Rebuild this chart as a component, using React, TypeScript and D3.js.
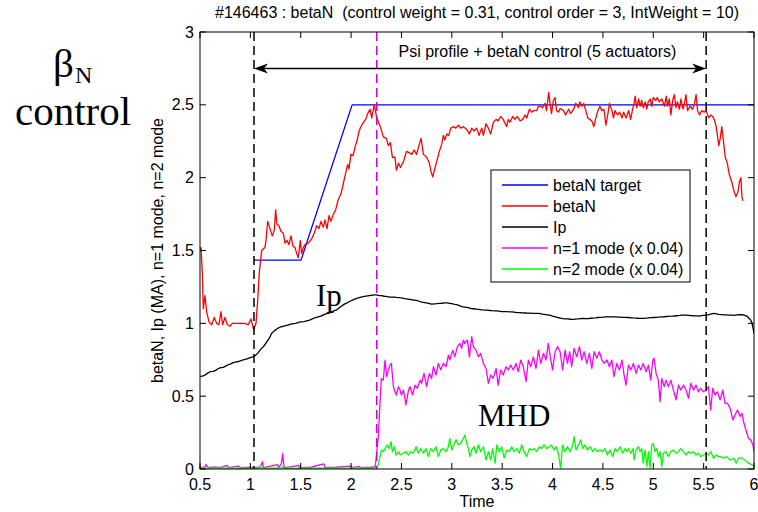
import React from "react";
import * as d3 from "d3";

// ---------- data ----------
const targetT = [1.036, 1.503, 2.01, 6.0];
const targetV = [1.434, 1.434, 2.5, 2.5];

const betaNT = [0.5,0.51,0.523,0.533,0.549,0.566,0.589,0.616,0.642,0.665,0.688,0.708,0.725,0.748,0.771,0.798,0.821,0.847,0.88,0.913,0.947,0.98,1.006,1.033,1.056,1.072,1.089,1.112,1.145,1.155,1.172,1.195,1.218,1.238,1.251,1.264,1.284,1.304,1.327,1.344,1.364,1.383,1.403,1.423,1.443,1.46,1.476,1.496,1.509,1.526,1.542,1.575,1.609,1.635,1.658,1.681,1.701,1.724,1.741,1.761,1.781,1.8,1.824,1.847,1.873,1.9,1.923,1.946,1.966,1.979,1.999,2.019,2.039,2.062,2.079,2.105,2.122,2.145,2.165,2.188,
2.205,2.23,2.255,2.29,2.32,2.35,2.37,2.39,2.41,2.436,2.45,2.47,2.49,2.52,2.55,2.58,2.605,2.625,2.65,2.678,2.695,2.718,2.75,2.777,2.794,2.81,2.827,2.85,2.876,2.9,2.916,2.93,2.95,2.97,2.99,3.015,3.04,3.065,3.088,3.115,3.148,3.175,3.198,3.22,3.247,3.27,3.297,3.313,3.34,3.363,3.386,3.413,3.44,3.46,3.485,3.51,3.545,3.56,3.578,3.605,3.628,3.65,3.678,3.704,3.727,3.744,3.77,3.793,3.816,3.843,3.86,3.883,3.9,3.926,3.94,3.962,3.975,3.99,4.008,4.025,4.04,4.06,
4.075,4.11,4.13,4.16,4.18,4.21,4.23,4.26,4.27,4.29,4.31,4.33,4.35,4.37,4.39,4.41,4.43,4.45,4.47,4.49,4.51,4.53,4.55,4.565,4.59,4.605,4.62,4.645,4.665,4.69,4.705,4.73,4.755,4.775,4.795,4.81,4.82,4.835,4.855,4.87,4.885,4.9,4.92,4.935,4.95,4.97,4.985,5.0,5.025,5.04,5.06,5.085,5.11,5.13,5.14,5.16,5.175,5.195,5.21,5.225,5.24,5.26,5.275,5.295,5.31,5.325,5.34,5.365,5.39,5.41,5.425,5.44,5.46,5.48,5.505,5.525,5.55,5.57,5.59,5.605,5.625,5.65,5.665,5.68,5.7,5.715,5.735,5.755,5.78,5.8,5.82,5.84,5.855,5.87,5.88,5.89];
const betaNV = [1.5,1.52,1.35,1.1,1.19,1.08,1.01,0.99,1.04,1.0,0.99,1.08,0.99,1.04,0.99,0.98,1.0,1.0,1.0,1.0,1.0,0.99,1.03,0.955,1.0,1.15,1.35,1.5,1.52,1.57,1.7,1.65,1.6,1.64,1.78,1.68,1.67,1.63,1.62,1.55,1.57,1.54,1.6,1.53,1.52,1.48,1.45,1.57,1.48,1.52,1.54,1.55,1.58,1.62,1.67,1.65,1.7,1.66,1.71,1.65,1.74,1.7,1.75,1.78,1.85,1.89,1.96,2.03,2.09,2.06,2.16,2.15,2.21,2.26,2.32,2.36,2.38,2.4,2.44,2.47,
2.41,2.5,2.41,2.35,2.28,2.27,2.22,2.24,2.14,2.14,2.05,2.1,2.07,2.11,2.18,2.17,2.16,2.19,2.16,2.23,2.27,2.16,2.14,2.1,2.04,2.006,2.05,2.11,2.18,2.23,2.29,2.26,2.3,2.29,2.34,2.35,2.34,2.36,2.34,2.35,2.33,2.3,2.34,2.32,2.34,2.29,2.34,2.29,2.37,2.34,2.3,2.38,2.4,2.39,2.42,2.4,2.35,2.4,2.38,2.42,2.4,2.42,2.39,2.4,2.43,2.41,2.47,2.45,2.46,2.46,2.49,2.49,2.48,2.51,2.46,2.585,2.51,2.44,2.53,2.55,2.46,2.45,
2.475,2.46,2.43,2.47,2.44,2.47,2.51,2.48,2.52,2.49,2.51,2.46,2.41,2.4,2.39,2.35,2.41,2.46,2.49,2.46,2.47,2.36,2.44,2.51,2.46,2.41,2.46,2.43,2.45,2.41,2.45,2.41,2.46,2.4,2.47,2.51,2.56,2.48,2.54,2.49,2.53,2.48,2.52,2.47,2.52,2.54,2.49,2.55,2.53,2.55,2.52,2.54,2.49,2.56,2.49,2.54,2.43,2.54,2.57,2.48,2.52,2.47,2.54,2.47,2.51,2.57,2.46,2.49,2.47,2.51,2.57,2.46,2.43,2.46,2.45,2.46,2.41,2.43,2.42,2.4,2.35,2.22,2.27,2.35,2.23,2.14,2.1,2.02,1.97,1.91,1.87,1.9,1.97,2.0,1.87,1.84];

const ipT = [0.5,0.53,0.55,0.58,0.6,0.63,0.65,0.68,0.7,0.73,0.75,0.78,0.8,0.83,0.85,0.88,0.9,0.93,0.95,0.98,1.0,1.03,1.05,1.08,1.1,1.13,1.16,1.19,1.21,1.24,1.27,1.3,1.33,1.35,1.38,1.4,1.43,1.45,1.48,1.5,1.53,1.55,1.58,1.6,1.63,1.65,1.68,1.7,1.73,1.75,1.78,1.8,1.83,1.85,1.88,1.9,1.93,1.95,1.98,2.0,2.03,2.05,2.08,2.1,2.13,2.15,2.18,2.2,2.23,2.25,2.28,2.3,2.33,2.35,2.38,2.4,2.43,2.45,2.48,2.5,2.53,2.55,2.58,2.6,2.63,2.65,2.68,2.7,2.73,2.75,2.78,2.8,2.83,2.85,2.88,2.9,2.93,2.95,2.98,3.0,3.03,3.05,3.08,3.1,3.13,3.15,3.18,3.2,3.23,3.25,3.28,3.3,3.33,3.35,3.38,3.4,3.43,3.45,3.48,3.5,3.53,3.55,3.58,3.6,3.63,3.65,3.68,3.7,3.73,3.75,3.78,3.8,3.83,3.85,3.88,3.9,3.93,3.95,3.98,4.0,4.03,4.05,4.08,4.1,4.13,4.15,4.18,4.2,4.23,4.25,4.28,4.3,4.33,4.35,4.38,4.4,4.43,4.45,4.48,4.5,4.53,4.55,4.58,4.6,4.63,4.65,4.68,4.7,4.73,4.75,4.78,4.8,4.83,4.85,4.88,4.9,4.93,4.95,4.98,5.0,5.03,5.05,5.08,5.1,5.13,5.15,5.18,5.2,5.23,5.25,5.28,5.3,5.33,5.35,5.38,5.4,5.43,5.45,5.48,5.5,5.53,5.55,5.58,5.6,5.63,5.65,5.68,5.7,5.73,5.75,5.78,5.8,5.83,5.85,5.88,5.9,5.93,5.95,5.97,5.98,5.99,6.0];
const ipV = [0.634,0.64,0.645,0.66,0.668,0.67,0.675,0.688,0.695,0.698,0.705,0.716,0.72,0.73,0.733,0.738,0.742,0.75,0.752,0.76,0.765,0.772,0.78,0.8,0.82,0.84,0.87,0.9,0.93,0.95,0.965,0.975,0.98,0.985,0.99,0.995,0.998,1.0,1.006,1.01,1.012,1.015,1.02,1.025,1.035,1.04,1.046,1.05,1.06,1.065,1.07,1.075,1.085,1.09,1.105,1.115,1.13,1.137,1.148,1.155,1.165,1.17,1.176,1.18,1.185,1.187,1.19,1.192,1.195,1.195,1.19,1.19,1.186,1.185,1.18,1.18,1.18,1.178,1.176,1.175,1.17,1.168,1.165,1.162,1.16,1.158,1.15,1.145,1.142,1.14,1.136,1.132,1.134,1.135,1.137,1.138,1.14,1.14,1.137,1.135,1.13,1.128,1.12,1.115,1.112,1.11,1.104,1.1,1.1,1.097,1.094,1.092,1.09,1.09,1.088,1.087,1.086,1.085,1.082,1.08,1.081,1.08,1.079,1.078,1.075,1.073,1.074,1.072,1.071,1.07,1.07,1.068,1.069,1.068,1.066,1.063,1.06,1.058,1.054,1.05,1.045,1.04,1.036,1.033,1.031,1.03,1.028,1.027,1.029,1.03,1.033,1.034,1.032,1.032,1.035,1.036,1.038,1.04,1.041,1.042,1.044,1.044,1.045,1.045,1.044,1.043,1.042,1.041,1.041,1.04,1.038,1.037,1.036,1.035,1.034,1.034,1.036,1.037,1.039,1.04,1.041,1.042,1.044,1.045,1.047,1.048,1.049,1.05,1.052,1.053,1.056,1.057,1.056,1.055,1.053,1.052,1.051,1.05,1.053,1.055,1.057,1.06,1.065,1.068,1.065,1.062,1.06,1.058,1.058,1.057,1.056,1.055,1.058,1.06,1.059,1.057,1.05,1.035,1.02,1.0,0.97,0.93];

const n1T = [0.5,0.55,0.56,0.58,0.65,0.7,0.77,0.78,0.88,0.9,1.0,1.05,1.1,1.12,1.13,1.2,1.27,1.28,1.31,1.32,1.335,1.4,1.48,1.49,1.6,1.73,1.74,1.85,2.0,2.01,2.08,2.09,2.2,2.24,
2.27,2.287,2.3,2.32,2.337,2.353,2.37,2.386,2.4,2.42,2.436,2.45,2.47,2.486,2.5,2.52,2.545,2.57,2.585,2.61,2.635,2.658,2.685,2.7,2.724,2.75,2.777,2.8,2.817,2.843,2.866,2.89,2.916,2.943,2.966,2.98,3.01,3.03,3.055,3.08,3.098,3.115,3.13,3.155,3.175,3.198,3.214,3.24,3.264,3.287,3.313,3.34,3.363,3.386,3.41,3.44,3.46,3.485,3.51,3.538,3.56,3.585,3.61,3.638,3.66,3.684,3.71,3.737,3.76,3.783,3.81,3.836,3.86,3.883,3.91,3.935,3.958,3.98,4.0,4.025,4.05,
4.075,4.1,4.125,4.148,4.17,4.19,4.214,4.24,4.267,4.29,4.313,4.34,4.366,4.39,4.413,4.44,4.465,4.49,4.512,4.54,4.565,4.588,4.61,4.638,4.664,4.69,4.71,4.73,4.753,4.777,4.803,4.83,4.853,4.876,4.9,4.93,4.952,4.975,4.995,5.008,5.028,5.05,5.068,5.085,5.108,5.127,5.15,5.174,5.2,5.227,5.25,5.273,5.3,5.326,5.35,5.372,5.4,5.425,5.448,5.47,5.498,5.525,5.548,5.57,5.59,5.614,5.637,5.664,5.69,5.713,5.737,5.763,5.79,5.813,5.836,5.862,5.88,5.9,5.92,5.945,5.968,5.99,6.0];
const n1V = [0.01,0.015,0.03,0.01,0.015,0.01,0.025,0.01,0.02,0.01,0.012,0.01,0.015,0.05,0.01,0.02,0.03,0.01,0.04,0.105,0.01,0.015,0.025,0.01,0.012,0.035,0.01,0.012,0.02,0.01,0.018,0.01,0.012,0.017,
0.22,0.45,0.62,0.61,0.748,0.634,0.68,0.713,0.725,0.565,0.53,0.508,0.565,0.542,0.508,0.542,0.44,0.542,0.565,0.508,0.576,0.554,0.61,0.588,0.656,0.565,0.656,0.622,0.702,0.645,0.725,0.68,0.725,0.702,0.782,0.748,0.816,0.77,0.84,0.862,0.828,0.885,0.862,0.885,0.77,0.908,0.84,0.816,0.77,0.794,0.725,0.69,0.588,0.645,0.622,0.69,0.576,0.68,0.645,0.702,0.68,0.713,0.68,0.725,0.668,0.748,0.702,0.6,0.748,0.702,0.77,0.69,0.816,0.725,0.794,0.748,0.862,0.76,0.68,0.805,0.84,
0.805,0.68,0.816,0.725,0.805,0.702,0.828,0.77,0.84,0.748,0.805,0.725,0.794,0.69,0.805,0.76,0.805,0.748,0.725,0.748,0.702,0.748,0.634,0.725,0.68,0.748,0.645,0.576,0.713,0.68,0.725,0.656,0.713,0.68,0.725,0.668,0.713,0.61,0.748,0.76,0.656,0.61,0.462,0.622,0.565,0.61,0.565,0.61,0.542,0.474,0.576,0.542,0.576,0.542,0.485,0.588,0.542,0.576,0.53,0.554,0.53,0.542,0.565,0.405,0.554,0.508,0.53,0.474,0.542,0.451,0.451,0.417,0.337,0.371,0.405,0.36,0.383,0.314,0.268,0.211,0.2,0.165,0.12];

const n2T = [0.5,0.7,0.9,1.09,1.1,1.11,1.3,1.32,1.33,1.6,1.9,2.2,2.24,
2.27,2.3,2.32,2.337,2.36,2.38,2.397,2.41,2.43,2.446,2.47,2.49,2.52,2.545,2.57,2.59,2.62,2.645,2.668,2.69,2.718,2.744,2.767,2.79,2.817,2.843,2.866,2.89,2.916,2.943,2.966,2.98,3.0,3.02,3.042,3.065,3.088,3.115,3.13,3.148,3.165,3.18,3.198,3.22,3.24,3.264,3.287,3.313,3.34,3.363,3.386,3.405,3.43,3.446,3.472,3.495,3.52,3.545,3.57,3.595,3.618,3.645,3.67,3.694,3.717,3.744,3.77,3.793,3.816,3.843,3.87,3.892,3.916,3.942,3.97,3.99,4.015,4.035,4.058,4.08,
4.1,4.125,4.148,4.175,4.2,4.214,4.234,4.257,4.28,4.3,4.323,4.346,4.373,4.4,4.42,4.446,4.472,4.5,4.52,4.545,4.57,4.598,4.62,4.644,4.67,4.697,4.72,4.737,4.753,4.777,4.8,4.81,4.83,4.853,4.87,4.886,4.9,4.92,4.936,4.952,4.968,4.985,5.0,5.018,5.035,5.05,5.068,5.085,5.1,5.127,5.15,5.174,5.2,5.227,5.25,5.273,5.3,5.326,5.35,5.372,5.4,5.425,5.448,5.47,5.498,5.525,5.548,5.57,5.6,5.625,5.647,5.67,5.697,5.73,5.763,5.8,5.823,5.846,5.88,5.912,5.945,5.98,6.0];
const n2V = [0.005,0.006,0.005,0.005,0.02,0.005,0.006,0.016,0.005,0.005,0.006,0.005,0.005,
0.027,0.13,0.119,0.14,0.165,0.14,0.188,0.119,0.153,0.096,0.119,0.096,0.108,0.119,0.096,0.119,0.108,0.153,0.108,0.14,0.108,0.14,0.085,0.14,0.119,0.153,0.085,0.13,0.14,0.119,0.153,0.21,0.13,0.165,0.2,0.165,0.176,0.21,0.233,0.176,0.14,0.085,0.13,0.153,0.108,0.165,0.119,0.153,0.062,0.119,0.062,0.14,0.04,0.165,0.119,0.153,0.074,0.13,0.119,0.153,0.119,0.14,0.108,0.165,0.119,0.085,0.14,0.13,0.14,0.119,0.153,0.14,0.165,0.14,0.153,0.165,0.13,0.153,0.108,0.005,
0.165,0.119,0.153,0.119,0.165,0.222,0.13,0.165,0.2,0.14,0.165,0.13,0.153,0.119,0.14,0.119,0.13,0.119,0.14,0.096,0.13,0.085,0.14,0.119,0.153,0.108,0.14,0.119,0.14,0.108,0.14,0.062,0.13,0.153,0.119,0.14,0.04,0.13,0.017,0.119,0.005,0.165,0.176,0.119,0.14,0.085,0.119,0.017,0.108,0.119,0.085,0.119,0.13,0.108,0.119,0.14,0.119,0.096,0.119,0.108,0.119,0.096,0.108,0.085,0.096,0.108,0.096,0.119,0.074,0.096,0.085,0.085,0.074,0.085,0.062,0.074,0.04,0.074,0.074,0.062,0.04,0.028,0.017];

const xTicks = [0.5, 1, 1.5, 2, 2.5, 3, 3.5, 4, 4.5, 5, 5.5, 6];
const yTicks = [0, 0.5, 1, 1.5, 2, 2.5, 3];
const legendLabels = ["betaN target", "betaN", "Ip", "n=1 mode (x 0.04)", "n=2 mode (x 0.04)"];
const legendColors = ["#0000ff", "#ff0000", "#000000", "#ff00ff", "#00ff00"];
const controlStart = 1.036;
const controlEnd = 5.525;
const mhdStart = 2.255;
const arrowLevel = 2.75;
const arrowTextCenter = 3.85;
const titleText = "#146463 : betaN\u00a0\u00a0(control weight = 0.31, control order = 3, IntWeight = 10)";

const SANS = "'Liberation Sans', Arial, Helvetica, sans-serif";
const SERIF = "'Liberation Serif', 'Times New Roman', Times, serif";

export default function App() {
  const W = 758, H = 512;
  const L = 200, R = 754, T = 32, B = 469;
  const x = d3.scaleLinear().domain([0.5, 6]).range([L, R]);
  const y = d3.scaleLinear().domain([0, 3]).range([B, T]);
  const line = d3.line<[number, number]>().x(d => x(d[0])).y(d => y(d[1]));
  const zip = (a: number[], b: number[]) => a.map((t, i) => [t, b[i]] as [number, number]);

  const series = [
    { d: zip(targetT, targetV), c: legendColors[0] },
    { d: zip(betaNT, betaNV), c: legendColors[1] },
    { d: zip(ipT, ipV), c: legendColors[2] },
    { d: zip(n1T, n1V), c: legendColors[3] },
    { d: zip(n2T, n2V), c: legendColors[4] },
  ];

  const ay = y(arrowLevel);
  const ax1 = x(controlStart), ax2 = x(controlEnd);
  const head = (tx: number, dir: number) =>
    `M${tx},${ay} L${tx + dir * 14},${ay - 5} L${tx + dir * 10},${ay} L${tx + dir * 14},${ay + 5} Z`;

  const legX = 491, legY = 170, legW = 199, legH = 112;

  return (
    <svg width={W} height={H} style={{ position: "absolute", left: 0, top: 0, background: "#fff" }}
      fontFamily={SANS}>
      <rect x={0} y={0} width={W} height={H} fill="#fff" />
      <defs>
        <clipPath id="plotclip"><rect x={L} y={T} width={R - L} height={B - T} /></clipPath>
      </defs>
      {/* title */}
      <text x={(L + R) / 2} y={18} fontSize={16} textAnchor="middle">{titleText}</text>
      {/* series */}
      <g clipPath="url(#plotclip)" fill="none" strokeWidth={1.3} strokeLinejoin="round">
        {series.map((s, i) => <path key={i} d={line(s.d) || ""} stroke={s.c} />)}
      </g>
      {/* dashed markers */}
      <line x1={x(controlStart)} x2={x(controlStart)} y1={T} y2={B} stroke="#000" strokeWidth={1.5} strokeDasharray="9,5" />
      <line x1={x(controlEnd)} x2={x(controlEnd)} y1={T} y2={B} stroke="#000" strokeWidth={1.5} strokeDasharray="9,5" />
      <line x1={x(mhdStart)} x2={x(mhdStart)} y1={T} y2={B} stroke="#cc00cc" strokeWidth={1.5} strokeDasharray="9,5" />
      {/* arrow */}
      <line x1={ax1 + 10} x2={ax2 - 10} y1={ay} y2={ay} stroke="#000" strokeWidth={1.5} />
      <path d={head(ax1, 1)} fill="#000" />
      <path d={head(ax2, -1)} fill="#000" />
      <text x={x(arrowTextCenter)} y={57} fontSize={16} textAnchor="middle">Psi profile + betaN control (5 actuators)</text>
      {/* frame and ticks */}
      <rect x={L} y={T} width={R - L} height={B - T} fill="none" stroke="#000" strokeWidth={1} />
      {xTicks.map(t => (
        <g key={"x" + t}>
          <line x1={x(t)} x2={x(t)} y1={B} y2={B - 6} stroke="#000" />
          <line x1={x(t)} x2={x(t)} y1={T} y2={T + 6} stroke="#000" />
          <text x={x(t)} y={490} fontSize={16} textAnchor="middle">{t}</text>
        </g>
      ))}
      {yTicks.map(t => (
        <g key={"y" + t}>
          <line x1={L} x2={L + 6} y1={y(t)} y2={y(t)} stroke="#000" />
          <line x1={R} x2={R - 6} y1={y(t)} y2={y(t)} stroke="#000" />
          <text x={194} y={y(t) + 5.5} fontSize={16} textAnchor="end">{t}</text>
        </g>
      ))}
      <text x={(L + R) / 2} y={507} fontSize={16} textAnchor="middle">Time</text>
      <text transform={`translate(163,${(T + B) / 2}) rotate(-90)`} fontSize={16} textAnchor="middle">
        betaN, Ip (MA), n=1 mode, n=2 mode
      </text>
      {/* legend */}
      <rect x={legX} y={legY} width={legW} height={legH} fill="#fff" stroke="#000" strokeWidth={1} />
      {legendLabels.map((lab, i) => {
        const ry = 185 + i * 21;
        return (
          <g key={lab}>
            <line x1={502} x2={548} y1={ry} y2={ry} stroke={legendColors[i]} strokeWidth={1.3} />
            <text x={553} y={ry + 5.5} fontSize={16}>{lab}</text>
          </g>
        );
      })}
      {/* side annotations */}
      <g fontFamily={SERIF}>
        <text fontSize={41}>
          <tspan x={53} y={77}>β</tspan>
          <tspan dx={1} dy={6} fontSize={24}>N</tspan>
        </text>
        <text x={15} y={125} fontSize={41}>control</text>
        <text x={316} y={306} fontSize={31}>Ip</text>
        <text x={478} y={426} fontSize={31}>MHD</text>
      </g>
    </svg>
  );
}
